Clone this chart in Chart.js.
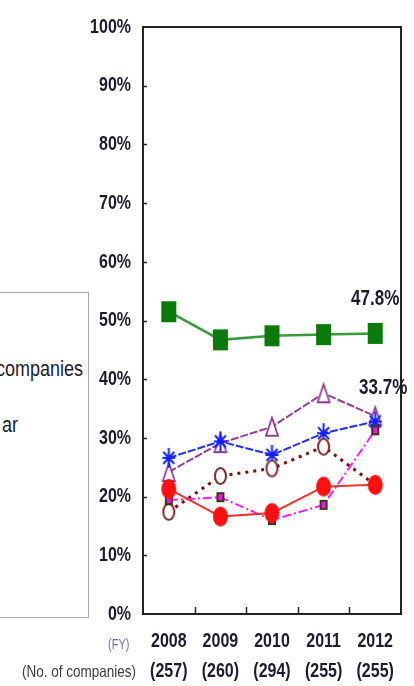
<!DOCTYPE html>
<html>
<head>
<meta charset="utf-8">
<title>Share of companies by fiscal year</title>
<script src="https://cdn.jsdelivr.net/npm/chart.js@4/dist/chart.umd.min.js"></script>
<style>
    html, body {
        margin: 0;
        padding: 0;
        background: #ffffff;
        overflow: hidden;
    }
    .wrap {
        position: relative;
        width: 414px;
        height: 686px;
    }
    #trendChart {
        position: absolute;
        left: 0;
        top: 0;
    }
    .legend-box {
        position: absolute;
        left: -4px;
        top: 292px;
        width: 91px;
        height: 324px;
        border: 1.5px solid #a8a8a8;
        overflow: hidden;
        background: #fff;
    }
    .legend-text {
        position: absolute;
        white-space: nowrap;
        font-family: "Liberation Sans", Arial, sans-serif;
        font-size: 18px;
        color: #1c1c2c;
        transform: scaleY(1.2);
    }
    .axis-caption {
        position: absolute;
        white-space: nowrap;
        font-family: "Liberation Sans", Arial, sans-serif;
        color: #3a3a4a;
        transform: scaleY(1.25);
    }
</style>
</head>
<body>
<div class="wrap">
    <canvas id="trendChart" width="414" height="686"></canvas>
    <div class="legend-box">
        <span class="legend-text" style="right: 5px; top: 66px;">companies</span>
        <span class="legend-text" style="right: 70px; top: 122px;">ar</span>
    </div>
    <div class="axis-caption" style="left: 108px; top: 638px; font-size: 11px; color: #6a7498;">(FY)</div>
    <div class="axis-caption" style="left: 22px; top: 664px; font-size: 13.5px;">(No. of companies)</div>
</div>

<script>
// Fiscal years and number of responding companies
const years = ['2008', '2009', '2010', '2011', '2012'];
const companyCounts = ['(257)', '(260)', '(294)', '(255)', '(255)'];

// Percentages per series (fiscal years 2008-2012)
const greenSeries = [51.5, 46.7, 47.4, 47.6, 47.8];
const purpleSeries = [24.2, 29.1, 31.9, 37.6, 33.7];
const blueSeries = [26.6, 29.4, 27.1, 30.8, 32.8];
const brownSeries = [17.4, 23.5, 24.8, 28.5, 22.0];
const magentaSeries = [19.4, 19.9, 16.0, 18.6, 31.3];
const redSeries = [21.3, 16.6, 17.2, 21.7, 22.0];

const yTicks = [0, 10, 20, 30, 40, 50, 60, 70, 80, 90, 100];

const FONT = '"Liberation Sans", Arial, sans-serif';
const TEXT_COLOR = '#1c1c2c';

// Markers in this chart are taller than wide, so build them as small canvases
function makeMarker(w, h, draw) {
    const pad = 2;
    const c = document.createElement('canvas');
    c.width = w + pad * 2;
    c.height = h + pad * 2;
    const ctx = c.getContext('2d');
    ctx.translate(pad, pad);
    draw(ctx, w, h);
    return c;
}

const greenMarker = makeMarker(15, 21, (ctx, w, h) => {
    ctx.fillStyle = '#0a7a0a';
    ctx.fillRect(0, 0, w, h);
});

const redMarker = makeMarker(15, 20, (ctx, w, h) => {
    ctx.fillStyle = '#ff1010';
    ctx.beginPath();
    ctx.ellipse(w / 2, h / 2, w / 2, h / 2, 0, 0, Math.PI * 2);
    ctx.fill();
});

const brownMarker = makeMarker(13, 18, (ctx, w, h) => {
    ctx.fillStyle = '#ffffff';
    ctx.strokeStyle = '#7a2a2a';
    ctx.lineWidth = 2;
    ctx.beginPath();
    ctx.ellipse(w / 2, h / 2, w / 2 - 1, h / 2 - 1, 0, 0, Math.PI * 2);
    ctx.fill();
    ctx.stroke();
});

const purpleMarker = makeMarker(14, 20, (ctx, w, h) => {
    ctx.fillStyle = '#ffffff';
    ctx.strokeStyle = '#8e3c8e';
    ctx.lineWidth = 1.8;
    ctx.beginPath();
    ctx.moveTo(w / 2, 1);
    ctx.lineTo(w - 1, h - 1);
    ctx.lineTo(1, h - 1);
    ctx.closePath();
    ctx.fill();
    ctx.stroke();
});

const blueMarker = makeMarker(13, 20, (ctx, w, h) => {
    ctx.strokeStyle = '#1020ff';
    ctx.lineWidth = 2;
    ctx.beginPath();
    ctx.moveTo(w / 2, 0);
    ctx.lineTo(w / 2, h);
    ctx.moveTo(1, h * 0.2);
    ctx.lineTo(w - 1, h * 0.8);
    ctx.moveTo(w - 1, h * 0.2);
    ctx.lineTo(1, h * 0.8);
    ctx.moveTo(0, h / 2);
    ctx.lineTo(w, h / 2);
    ctx.stroke();
});

const magentaMarker = makeMarker(8, 10, (ctx, w, h) => {
    ctx.fillStyle = '#3a3a10';
    ctx.fillRect(0, 0, w, h);
    ctx.fillStyle = '#ff10ff';
    ctx.fillRect(2, 2, w - 4, h - 4);
});

// Text in this chart is narrow and tall: draw it stretched vertically
function tallText(ctx, text, x, y, align, size) {
    ctx.save();
    ctx.translate(x, y);
    ctx.scale(1, 1.3);
    ctx.font = 'bold ' + size + 'px ' + FONT;
    ctx.fillStyle = TEXT_COLOR;
    ctx.textAlign = align;
    ctx.textBaseline = 'middle';
    ctx.fillText(text, 0, 0);
    ctx.restore();
}

// Frame, inward tick marks, axis labels and value labels
const framePlugin = {
    id: 'frame',
    afterDatasetsDraw(chart) {
        const { ctx, chartArea: a, scales } = chart;
        ctx.save();
        ctx.strokeStyle = '#222222';
        ctx.lineWidth = 2;
        ctx.strokeRect(a.left, a.top, a.right - a.left, a.bottom - a.top);

        ctx.lineWidth = 1.5;
        ctx.beginPath();
        yTicks.forEach(v => {
            if (v === 0 || v === 100) return;
            const y = Math.round(scales.y.getPixelForValue(v)) + 0.5;
            ctx.moveTo(a.left, y);
            ctx.lineTo(a.left + 4, y);
        });
        for (let i = 0; i < years.length - 1; i++) {
            const x = Math.round((scales.x.getPixelForValue(i) + scales.x.getPixelForValue(i + 1)) / 2) + 0.5;
            ctx.moveTo(x, a.bottom);
            ctx.lineTo(x, a.bottom - 7);
        }
        ctx.stroke();
        ctx.restore();

        // y axis labels
        yTicks.forEach(v => {
            tallText(ctx, v + '%', a.left - 12, scales.y.getPixelForValue(v), 'right', 16);
        });

        // fiscal year and company count under each category
        years.forEach((y, i) => {
            const x = scales.x.getPixelForValue(i);
            tallText(ctx, y, x, a.bottom + 27, 'center', 16);
            tallText(ctx, companyCounts[i], x, a.bottom + 57, 'center', 16);
        });

        // value labels for the latest year
        const last = years.length - 1;
        const lx = scales.x.getPixelForValue(last);
        tallText(ctx, greenSeries[last].toFixed(1) + '%', lx, scales.y.getPixelForValue(greenSeries[last]) - 35, 'center', 17);
        tallText(ctx, purpleSeries[last].toFixed(1) + '%', lx + 8, scales.y.getPixelForValue(purpleSeries[last]) - 28, 'center', 17);
    }
};

function series(data, color, width, dash, marker, order) {
    return {
        data: data,
        borderColor: color,
        borderWidth: width,
        borderDash: dash,
        pointStyle: marker,
        pointRadius: 10,
        pointHoverRadius: 10,
        tension: 0,
        order: order
    };
}

document.addEventListener('DOMContentLoaded', () => {
    const ctx = document.getElementById('trendChart').getContext('2d');
    new Chart(ctx, {
        type: 'line',
        data: {
            labels: years,
            datasets: [
                series(greenSeries, '#3a9a3a', 2.5, [], greenMarker, 6),
                series(purpleSeries, '#963c96', 2, [8, 2], purpleMarker, 5),
                series(blueSeries, '#2030ff', 2, [8, 2], blueMarker, 4),
                series(brownSeries, '#7a1010', 3, [3, 5], brownMarker, 3),
                series(magentaSeries, '#ff20ff', 2, [9, 3, 2, 3], magentaMarker, 2),
                series(redSeries, '#ff2a2a', 2, [], redMarker, 1)
            ]
        },
        options: {
            responsive: false,
            devicePixelRatio: 1,
            animation: false,
            layout: {
                padding: { left: 0, right: 8, top: 27, bottom: 0 }
            },
            plugins: {
                legend: { display: false },
                tooltip: { enabled: false }
            },
            scales: {
                x: {
                    offset: true,
                    grid: { display: false, drawTicks: false },
                    border: { display: false },
                    ticks: { display: false },
                    afterFit: scale => { scale.height = 72; }
                },
                y: {
                    min: 0,
                    max: 100,
                    afterBuildTicks: scale => {
                        scale.ticks = yTicks.map(v => ({ value: v }));
                    },
                    grid: { display: false, drawTicks: false },
                    border: { display: false },
                    ticks: { display: false },
                    afterFit: scale => { scale.width = 143; }
                }
            }
        },
        plugins: [framePlugin]
    });
});
</script>
</body>
</html>
